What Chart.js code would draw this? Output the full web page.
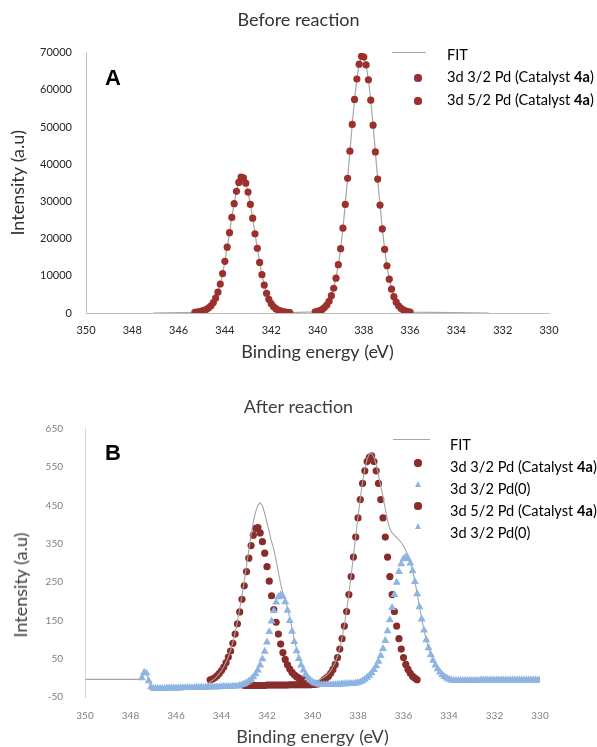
<!DOCTYPE html>
<html>
<head>
<meta charset="utf-8">
<script src="https://cdn.jsdelivr.net/npm/chart.js"></script>
<style>
html,body{margin:0;padding:0;background:#fff;}
body{width:597px;height:747px;position:relative;overflow:hidden;}
canvas{position:absolute;left:0;display:block;}
#chartA{top:0;}
#chartB{top:385px;}
.panel{position:absolute;font-family:"Liberation Sans",Arial,sans-serif;font-weight:bold;font-size:22px;line-height:22px;color:#000;}
.lg{position:absolute;font-family:Lato,sans-serif;font-size:14.6px;line-height:17px;color:#000;white-space:nowrap;}
.mk{position:absolute;}
.ytitle{position:absolute;font-family:Lato,sans-serif;font-size:18px;line-height:22px;color:#404040;white-space:nowrap;transform:translate(-50%,-50%) rotate(-90deg);}
</style>
</head>
<body>
<canvas id="chartA" width="597" height="365"></canvas>
<canvas id="chartB" width="597" height="365"></canvas>
<div class="panel" id="panelA" style="left:105px;top:67px"></div>
<div class="panel" id="panelB" style="left:105px;top:442px"></div>
<div class="ytitle" id="yTitleB" style="left:20px;top:585px"></div>
<div id="legendA"></div>
<div id="legendB"></div>
<script>
// ---------------- DATA ----------------
const energyTicks = [350, 348, 346, 344, 342, 340, 338, 336, 334, 332, 330];
const intensityTicksA = [0, 10000, 20000, 30000, 40000, 50000, 60000, 70000];
const intensityTicksB = [-50, 50, 150, 250, 350, 450, 550, 650];

const panelLetters = ['A', 'B'];
const titleA = 'Before reaction';
const titleB = 'After reaction';
const xTitle = 'Binding energy (eV)';
const yTitle = 'Intensity (a.u)';
const boldToken = '4a';
const labelsA = ['FIT', '3d 3/2 Pd (Catalyst 4a)', '3d 5/2 Pd (Catalyst 4a)'];
const labelsB = ['FIT', '3d 3/2 Pd (Catalyst 4a)', '3d 3/2 Pd(0)', '3d 5/2 Pd (Catalyst 4a)', '3d 3/2 Pd(0)'];

// Panel A: before reaction
const a32Energy = [345.3,345.2,345.1,345.0,344.9,344.8,344.7,344.6,344.5,344.4,
  344.3,344.2,344.1,344.0,343.9,343.8,343.7,343.6,343.5,343.4,
  343.3,343.2,343.1,343.0,342.9,342.8,342.7,342.6,342.5,342.4,
  342.3,342.2,342.1,342.0,341.9,341.8,341.7,341.6,341.5,341.4,
  341.3,341.2];
const a32Intensity = [180,260,360,500,700,980,1380,1950,2800,4000,
  5600,7800,10600,13900,17700,21600,25700,29400,32700,35100,
  36500,36300,34900,32500,29200,25500,21300,17400,13600,10300,
  7500,5300,3700,2500,1700,1150,800,560,380,260,
  180,120];
const a52Energy = [340.1,340.0,339.9,339.8,339.7,339.6,339.5,339.4,339.3,339.2,
  339.1,339.0,338.9,338.8,338.7,338.6,338.5,338.4,338.3,338.2,
  338.1,338.0,337.9,337.8,337.7,337.6,337.5,337.4,337.3,337.2,
  337.1,337.0,336.9,336.8,336.7,336.6,336.5,336.4,336.3,336.2,
  336.1,336.0];
const a52Intensity = [300,450,650,950,1450,2150,3150,4650,6650,9350,
  13000,17300,22800,29200,36200,43500,50700,57400,62900,66900,
  69000,68800,66700,62700,57200,50500,43300,36000,29000,22600,
  17100,12700,9100,6400,4400,2900,1950,1300,850,560,
  380,260];
const aFitEndEnergy = [347.1, 332.6];
const aFitEndIntensity = [0, 0];

// Panel B: after reaction
const b32CatEnergy = [344.5,344.4,344.3,344.2,344.1,344.0,343.9,343.8,343.7,343.6,
  343.5,343.4,343.3,343.2,343.1,343.0,342.9,342.8,342.7,342.6,
  342.5,342.4,342.3,342.2,342.1,342.0,341.9,341.8,341.7,341.6,
  341.5,341.4,341.3,341.2,341.1,341.0,340.9,340.8,340.7,340.6,
  340.5,340.4];
const b32CatIntensity = [-5,-3,0,5,11,19,28,40,54,70,
  90,114,141,172,205,240,277,312,345,372,
  390,392,378,355,325,290,252,214,178,145,
  114,88,66,48,34,23,14,8,3,-1,
  -3,-5];

const b32Pd0Energy = [347.5,347.4,347.3,347.2,347.1,347.0,346.9,346.8,346.7,346.6,
  346.5,346.4,346.3,346.2,346.1,346.0,345.9,345.8,345.7,345.6,
  345.5,345.4,345.3,345.2,345.1,345.0,344.9,344.8,344.7,344.6,
  344.5,344.4,344.3,344.2,344.1,344.0,343.9,343.8,343.7,343.6,
  343.5,343.4,343.3,343.2,343.1,343.0,342.9,342.8,342.7,342.6,
  342.5,342.4,342.3,342.2,342.1,342.0,341.9,341.8,341.7,341.6,
  341.5,341.4,341.3,341.2,341.1,341.0,340.9,340.8,340.7,340.6,
  340.5,340.4,340.3,340.2,340.1,340.0,339.9,339.8,339.7,339.6,
  339.5,339.4,339.3,339.2,339.1,339.0];
const b32Pd0Intensity = [0,14,12,-8,-24,-28,-28,-28,-28,-28,
  -28,-27,-27,-27,-27,-27,-27,-27,-26,-26,
  -26,-26,-26,-26,-25,-25,-25,-25,-25,-25,
  -24,-24,-24,-24,-24,-23,-23,-23,-23,-23,
  -22,-22,-22,-20,-18,-16,-13,-9,-4,2,
  10,20,33,49,69,93,120,148,175,197,
  211,216,212,198,176,149,121,94,70,50,
  33,20,9,0,-6,-11,-14,-16,-17,-18,
  -18,-18,-18,-18,-18,-18];

const b52CatEnergy = [343.0,342.9,342.8,342.7,342.6,342.5,342.4,342.3,342.2,342.1,
  342.0,341.9,341.8,341.7,341.6,341.5,341.4,341.3,341.2,341.1,
  341.0,340.9,340.8,340.7,340.6,340.5,340.4,340.3,340.2,340.1,
  340.0,339.9,339.8,339.7,339.6,339.5,339.4,339.3,339.2,339.1,
  339.0,338.9,338.8,338.7,338.6,338.5,338.4,338.3,338.2,338.1,
  338.0,337.9,337.8,337.7,337.6,337.5,337.4,337.3,337.2,337.1,
  337.0,336.9,336.8,336.7,336.6,336.5,336.4,336.3,336.2,336.1,
  336.0,335.9,335.8,335.7,335.6,335.5,335.4];
const b52CatIntensity = [-20,-20,-20,-20,-20,-20,-20,-20,-20,-20,
  -19,-19,-19,-19,-19,-19,-19,-19,-19,-19,
  -18,-18,-18,-18,-18,-18,-18,-18,-18,-18,
  -17,-17,-16,-15,-12,-5,-1,4,12,22,
  35,53,75,102,135,173,217,264,315,367,
  417,465,507,540,564,575,579,564,540,507,
  465,417,367,315,264,217,173,135,102,75,
  53,35,22,12,4,-1,-5];

const b32Pd0bEnergy = [338.9,338.8,338.7,338.6,338.5,338.4,338.3,338.2,338.1,338.0,
  337.9,337.8,337.7,337.6,337.5,337.4,337.3,337.2,337.1,337.0,
  336.9,336.8,336.7,336.6,336.5,336.4,336.3,336.2,336.1,336.0,
  335.9,335.8,335.7,335.6,335.5,335.4,335.3,335.2,335.1,335.0,
  334.9,334.8,334.7,334.6,334.5,334.4,334.3,334.2,334.1,334.0,
  333.9,333.8,333.7,333.6,333.5,333.4,333.3,333.2,333.1,333.0,
  332.9,332.8,332.7,332.6,332.5,332.4,332.3,332.2,332.1,332.0,
  331.9,331.8,331.7,331.6,331.5,331.4,331.3,331.2,331.1,331.0,
  330.9,330.8,330.7,330.6,330.5,330.4,330.3,330.2,330.1,330.0];
const b32Pd0bIntensity = [-17,-17,-16,-16,-16,-15,-15,-15,-14,-13,
  -11,-8,-4,1,6,13,21,31,43,58,
  76,97,122,151,183,217,249,277,297,310,
  315,311,299,279,251,219,185,153,124,99,
  78,60,45,33,23,15,8,3,-1,-4,
  -6,-7,-7,-7,-7,-7,-7,-7,-7,-7,
  -7,-7,-7,-6,-6,-6,-6,-6,-6,-6,
  -6,-6,-6,-6,-6,-6,-6,-6,-6,-6,
  -6,-6,-6,-6,-6,-6,-6,-6,-6,-6];

const bFitEnergy = [350.0,347.6,347.5,347.4,347.3,347.2,347.1,347.0,345.0,
  344.9,344.8,344.7,344.6,344.5,344.4,344.3,344.2,344.1,344.0,
  343.9,343.8,343.7,343.6,343.5,343.4,343.3,343.2,343.1,343.0,
  342.9,342.8,342.7,342.6,342.5,342.4,342.3,342.2,342.1,342.0,
  341.9,341.8,341.7,341.6,341.5,341.4,341.3,341.2,341.1,341.0,
  340.9,340.8,340.7,340.6,340.5,340.4,340.3,340.2,340.1,340.0,
  339.9,339.8,339.7,339.6,339.5,339.4,339.3,339.2,339.1,339.0,
  338.9,338.8,338.7,338.6,338.5,338.4,338.3,338.2,338.1,338.0,
  337.9,337.8,337.7,337.6,337.5,337.4,337.3,337.2,337.1,337.0,
  336.9,336.8,336.7,336.6,336.5,336.4,336.3,336.2,336.1,336.0,
  335.9,335.8,335.7,335.6,335.5,335.4,335.3,335.2,335.1,335.0,
  334.9,334.8,334.7,334.6,334.5,334.4,334.3,334.2,334.1,334.0,
  333.9];
const bFitIntensity = [-4,-4,2,13,11,-8,-23,-27,-25,
  -24,-22,-20,-16,-11,-7,-2,4,11,19,
  29,41,55,72,93,118,147,180,215,252,
  292,333,372,407,433,450,457,448,428,405,
  380,355,335,306,275,245,220,203,182,157,
  128,100,75,53,36,22,11,3,-3,-7,
  -9,-8,-5,-2,2,6,11,18,28,40,
  56,78,105,138,176,220,267,318,370,420,
  468,510,545,570,584,586,575,556,530,500,
  472,440,410,388,378,372,366,360,353,344,
  333,320,303,280,252,220,186,154,125,100,
  79,60,45,33,23,15,8,3,-1,-4,
  -6];

// ---------------- STYLE / BUILD ----------------
const RED_A = '#9c302d', RED_B = '#8a2d2a', BLUE = '#8db4e2', FIT_GREY = '#a6a6a6';
const toPoints = (xs, ys) => xs.map((x, i) => ({ x: x, y: ys[i] }));

const fitAPoints = [{ x: aFitEndEnergy[0], y: aFitEndIntensity[0] }]
  .concat(toPoints(a32Energy, a32Intensity))
  .concat(toPoints(a52Energy, a52Intensity))
  .concat([{ x: aFitEndEnergy[1], y: aFitEndIntensity[1] }]);

function scalesFor(o) {
  return {
    x: {
      type: 'linear', reverse: true, min: 330, max: 350,
      afterBuildTicks: s => { s.ticks = energyTicks.map(v => ({ value: v })); },
      afterFit: s => { s.height = o.xHeight; },
      ticks: { autoSkip: false, maxRotation: 0, padding: o.xTickPad, color: o.tickColor,
               font: { family: 'Lato', size: o.tickSize }, callback: v => String(v) },
      grid: { display: false, drawTicks: false },
      border: { display: o.xBorder, color: '#bfbfbf', width: 1 },
      title: { display: true, text: xTitle, color: o.titleColor,
               font: { family: 'Lato', size: 18 }, padding: { top: 0, bottom: 2 } }
    },
    y: {
      type: 'linear', min: o.yTicks[0], max: o.yTicks[o.yTicks.length - 1],
      afterBuildTicks: s => { s.ticks = o.yTicks.map(v => ({ value: v })); },
      afterFit: s => { s.width = o.yWidth; },
      ticks: { padding: o.yTickPad, color: o.tickColor,
               font: { family: 'Lato', size: o.tickSize }, callback: v => String(v) },
      grid: { display: false, drawTicks: false },
      border: { display: true, color: o.yBorderColor, width: 1 },
      title: { display: o.yTitleShow, text: yTitle, color: o.titleColor,
               font: { family: 'Lato', size: 18 }, padding: { top: o.yTitlePad, bottom: 0 } }
    },
    yr: {
      type: 'linear', position: 'right', display: true,
      afterFit: s => { s.width = o.rightWidth; },
      ticks: { display: false }, grid: { display: false, drawTicks: false },
      border: { display: false }
    }
  };
}

const chartA = new Chart(document.getElementById('chartA'), {
  type: 'scatter',
  data: { datasets: [
    { label: labelsA[0], data: fitAPoints, showLine: true, borderColor: FIT_GREY, borderWidth: 1.2,
      pointRadius: 0, tension: 0, order: 3 },
    { label: labelsA[1], data: toPoints(a32Energy, a32Intensity), pointStyle: 'circle', pointRadius: 3.6,
      backgroundColor: RED_A, borderWidth: 0, order: 2 },
    { label: labelsA[2], data: toPoints(a52Energy, a52Intensity), pointStyle: 'circle', pointRadius: 3.6,
      backgroundColor: RED_A, borderWidth: 0, order: 1 }
  ]},
  options: {
    responsive: false, animation: false, devicePixelRatio: 1,
    layout: { padding: 0 },
    plugins: {
      legend: { display: false }, tooltip: { enabled: false },
      title: { display: true, text: titleA, color: '#333333',
               font: { family: 'Lato', size: 18, weight: 'normal' }, padding: { top: 9, bottom: 22 } }
    },
    scales: scalesFor({ xHeight: 52, xTickPad: 11, tickColor: '#262626', tickSize: 11, xBorder: true,
      titleColor: '#333333', yTicks: intensityTicksA, yWidth: 86, yTickPad: 14, yBorderColor: '#bfbfbf',
      yTitleShow: true, yTitlePad: 7, rightWidth: 48 })
  }
});

const chartB = new Chart(document.getElementById('chartB'), {
  type: 'scatter',
  data: { datasets: [
    { label: labelsB[0], data: toPoints(bFitEnergy, bFitIntensity), showLine: true, borderColor: FIT_GREY,
      borderWidth: 1.1, pointRadius: 0, tension: 0, order: 3 },
    { label: labelsB[1], data: toPoints(b32CatEnergy, b32CatIntensity), pointStyle: 'circle', pointRadius: 3.6,
      backgroundColor: RED_B, borderWidth: 0, order: 5 },
    { label: labelsB[2], data: toPoints(b32Pd0Energy, b32Pd0Intensity), pointStyle: 'triangle', pointRadius: 4.6,
      backgroundColor: BLUE, borderWidth: 0, order: 2 },
    { label: labelsB[3], data: toPoints(b52CatEnergy, b52CatIntensity), pointStyle: 'circle', pointRadius: 3.6,
      backgroundColor: RED_B, borderWidth: 0, order: 4 },
    { label: labelsB[4], data: toPoints(b32Pd0bEnergy, b32Pd0bIntensity), pointStyle: 'triangle', pointRadius: 4.6,
      backgroundColor: BLUE, borderWidth: 0, order: 1 }
  ]},
  options: {
    responsive: false, animation: false, devicePixelRatio: 1,
    layout: { padding: 0 },
    plugins: {
      legend: { display: false }, tooltip: { enabled: false },
      title: { display: true, text: titleB, color: '#404040',
               font: { family: 'Lato', size: 18, weight: 'normal' }, padding: { top: 11, bottom: 11 } }
    },
    scales: scalesFor({ xHeight: 53, xTickPad: 13, tickColor: '#808080', tickSize: 10, xBorder: false,
      titleColor: '#404040', yTicks: intensityTicksB, yWidth: 85, yTickPad: 22, yBorderColor: '#d9d9d9',
      yTitleShow: false, yTitlePad: 9, rightWidth: 57 })
  }
});

document.getElementById('panelA').textContent = panelLetters[0];
document.getElementById('panelB').textContent = panelLetters[1];
document.getElementById('yTitleB').textContent = yTitle;

function htmlLegend(chart, place) {
  const host = document.getElementById(place.id);
  chart.data.datasets.forEach((ds, i) => {
    const cy = place.markerY[i];
    const mk = document.createElement('div');
    mk.className = 'mk';
    if (ds.showLine) {
      mk.style.cssText = 'left:' + place.lineX[0] + 'px;top:' + (cy - 1) + 'px;width:' + (place.lineX[1] - place.lineX[0]) +
        'px;height:0;border-top:1.5px solid ' + ds.borderColor;
    } else if (ds.pointStyle === 'triangle') {
      const r = 4, hw = r * 0.87;
      mk.style.cssText = 'left:' + (place.markerX - hw) + 'px;top:' + (cy - r) + 'px;width:0;height:0;border-left:' + hw +
        'px solid transparent;border-right:' + hw + 'px solid transparent;border-bottom:' + (r * 1.5) + 'px solid ' + ds.backgroundColor;
    } else {
      const r = ds.pointRadius;
      mk.style.cssText = 'left:' + (place.markerX - r) + 'px;top:' + (cy - r) + 'px;width:' + (2 * r) + 'px;height:' + (2 * r) +
        'px;border-radius:50%;background:' + ds.backgroundColor;
    }
    host.appendChild(mk);
    const tx = document.createElement('div');
    tx.className = 'lg';
    tx.style.left = place.textX + 'px';
    tx.style.top = (place.textY[i] - 9) + 'px';
    const parts = ds.label.split(boldToken);
    parts.forEach((p, k) => {
      tx.appendChild(document.createTextNode(p));
      if (k < parts.length - 1) { const b = document.createElement('b'); b.textContent = boldToken; tx.appendChild(b); }
    });
    host.appendChild(tx);
  });
}
htmlLegend(chartA, { id: 'legendA', lineX: [392, 426], markerX: 418, textX: 447,
  markerY: [53, 78, 101], textY: [55, 77, 100] });
htmlLegend(chartB, { id: 'legendB', lineX: [393, 430], markerX: 418, textX: 450,
  markerY: [440, 463, 485, 506, 527], textY: [445, 467, 489, 511, 533] });
</script>
</body>
</html>
